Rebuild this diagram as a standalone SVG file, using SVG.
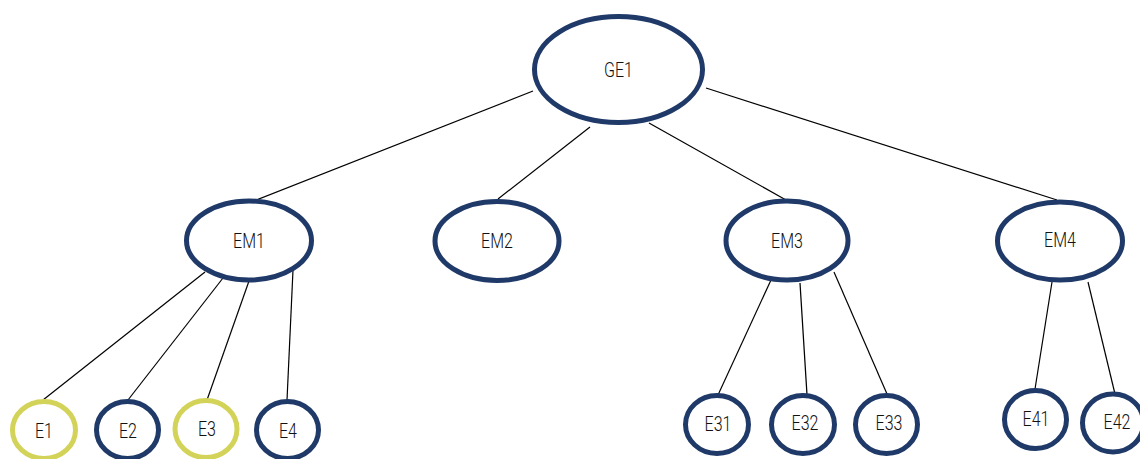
<svg xmlns="http://www.w3.org/2000/svg" width="1140" height="459" viewBox="0 0 1140 459">
<style>
.n{fill:#fff;stroke:#1f3968;stroke-width:5}
.y{fill:#fff;stroke:#d3d35a;stroke-width:5}
.t{font-family:Roboto,"Liberation Sans",sans-serif;font-size:20px;font-weight:300;fill:#111;text-anchor:middle;dominant-baseline:central}
.c line{stroke:#000;stroke-width:1.2}
</style>
<rect width="1140" height="459" fill="#fff"/>
<g class="c" id="connectors">
<line x1="533" y1="91" x2="254" y2="201"/>
<line x1="590" y1="127" x2="498" y2="199"/>
<line x1="649" y1="123" x2="786" y2="200"/>
<line x1="706" y1="88" x2="1057" y2="200"/>
<line x1="205" y1="272" x2="43" y2="400"/>
<line x1="223" y1="278" x2="128" y2="400"/>
<line x1="249" y1="281" x2="207" y2="400"/>
<line x1="293" y1="270" x2="287" y2="400"/>
<line x1="771" y1="280" x2="718" y2="395"/>
<line x1="800" y1="283" x2="807" y2="395"/>
<line x1="834" y1="272" x2="887" y2="394"/>
<line x1="1052" y1="282" x2="1035" y2="389"/>
<line x1="1088" y1="282" x2="1115" y2="394"/>
</g>
<g id="GE1"><ellipse class="n" cx="618.5" cy="69.5" rx="84" ry="53"/><text class="t" transform="translate(618.5 70) scale(0.8 1)">GE1</text></g>
<g id="EM1"><ellipse class="n" cx="249" cy="240.5" rx="62.5" ry="39.5"/><text class="t" transform="translate(249 241) scale(0.8 1)">EM1</text></g>
<g id="EM2"><ellipse class="n" cx="497" cy="241" rx="62" ry="39.5"/><text class="t" transform="translate(497 241) scale(0.8 1)">EM2</text></g>
<g id="EM3"><ellipse class="n" cx="787" cy="240.5" rx="61" ry="39.5"/><text class="t" transform="translate(787 241) scale(0.8 1)">EM3</text></g>
<g id="EM4"><ellipse class="n" cx="1060" cy="241" rx="62.5" ry="39"/><text class="t" transform="translate(1060 240) scale(0.8 1)">EM4</text></g>
<g id="E1"><ellipse class="y" cx="44" cy="430" rx="31.5" ry="28.5"/><text class="t" transform="translate(44 431) scale(0.8 1)">E1</text></g>
<g id="E2"><ellipse class="n" cx="127.5" cy="430" rx="31" ry="28.5"/><text class="t" transform="translate(128 431) scale(0.8 1)">E2</text></g>
<g id="E3"><ellipse class="y" cx="206" cy="429" rx="31" ry="28.5"/><text class="t" transform="translate(207 429) scale(0.8 1)">E3</text></g>
<g id="E4"><ellipse class="n" cx="287.5" cy="430" rx="31" ry="28.5"/><text class="t" transform="translate(288 431) scale(0.8 1)">E4</text></g>
<g id="E31"><ellipse class="n" cx="717" cy="424.5" rx="31.5" ry="29"/><text class="t" transform="translate(718 424) scale(0.8 1)">E31</text></g>
<g id="E32"><ellipse class="n" cx="803" cy="424.5" rx="31.5" ry="29"/><text class="t" transform="translate(805 423) scale(0.8 1)">E32</text></g>
<g id="E33"><ellipse class="n" cx="886.5" cy="424.5" rx="31" ry="29"/><text class="t" transform="translate(889 423) scale(0.8 1)">E33</text></g>
<g id="E41"><ellipse class="n" cx="1035.5" cy="419.5" rx="31" ry="29"/><text class="t" transform="translate(1036 419) scale(0.8 1)">E41</text></g>
<g id="E42"><ellipse class="n" cx="1113" cy="423" rx="30.5" ry="29"/><text class="t" transform="translate(1117 422) scale(0.8 1)">E42</text></g>
</svg>
